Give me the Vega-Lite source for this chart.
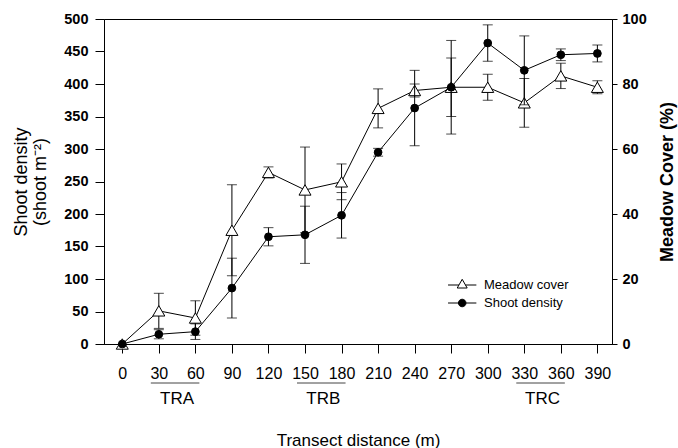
{
  "$schema": "https://vega.github.io/schema/vega-lite/v6.json",
  "width": 508,
  "height": 325,
  "autosize": "none",
  "padding": {"left": 104, "top": 19, "right": 66, "bottom": 104},
  "background": "white",
  "config": {
    "font": "Liberation Sans",
    "view": {"stroke": "black", "strokeWidth": 1},
    "axis": {"grid": false, "domainColor": "black", "tickColor": "black", "labelColor": "black", "titleColor": "black", "domainWidth": 1, "tickWidth": 1, "labelFlush": false, "labelOverlap": false},
    "axisBottom": {"labelFontSize": 16, "labelFontWeight": "normal", "tickSize": 9, "labelPadding": 12, "titleFontSize": 17, "titleFontWeight": "normal", "titleY": 96, "titleBaseline": "middle"},
    "axisLeft": {"labelFontSize": 14.5, "labelFontWeight": "bold", "tickSize": 9, "labelPadding": 7, "titleFontSize": 18, "titleFontWeight": "normal", "titleAngle": 270, "titleX": -83, "titleY": 162.5, "titleAlign": "center", "titleBaseline": "middle", "titleLineHeight": 19},
    "axisRight": {"labelFontSize": 14.5, "labelFontWeight": "bold", "tickSize": 5, "labelPadding": 5, "titleFontSize": 18, "titleFontWeight": "bold", "titleAngle": 270, "titleX": 55, "titleY": 162.5, "titleAlign": "center", "titleBaseline": "middle"}
  },
  "datasets": {
    "main": [
      {"x": 0, "shoot": 0, "shootErr": 0, "cover": 0, "coverErr": 0},
      {"x": 30, "shoot": 15, "shootErr": 7, "cover": 10.2, "coverErr": 5.4},
      {"x": 60, "shoot": 19, "shootErr": 12, "cover": 8, "coverErr": 5.3},
      {"x": 90, "shoot": 86, "shootErr": 46, "cover": 35, "coverErr": 14},
      {"x": 120, "shoot": 165, "shootErr": 14, "cover": 52.8, "coverErr": 1.7},
      {"x": 150, "shoot": 168, "shootErr": 44, "cover": 47.4, "coverErr": 13.2},
      {"x": 180, "shoot": 198, "shootErr": 35, "cover": 49.9, "coverErr": 5.5},
      {"x": 210, "shoot": 295, "shootErr": 6, "cover": 72.5, "coverErr": 6},
      {"x": 240, "shoot": 363, "shootErr": 58, "cover": 78, "coverErr": 2},
      {"x": 270, "shoot": 395, "shootErr": 72, "cover": 79, "coverErr": 9},
      {"x": 300, "shoot": 463, "shootErr": 28, "cover": 79, "coverErr": 4},
      {"x": 330, "shoot": 421, "shootErr": 53, "cover": 74.2, "coverErr": 7.5},
      {"x": 360, "shoot": 445, "shootErr": 9, "cover": 82.5, "coverErr": 3.9},
      {"x": 390, "shoot": 447, "shootErr": 13, "cover": 79, "coverErr": 2}
    ],
    "groups": [
      {"grp": "TRA", "start": 30, "end": 60, "mid": 45},
      {"grp": "TRB", "start": 150, "end": 180, "mid": 165},
      {"grp": "TRC", "start": 330, "end": 360, "mid": 345}
    ],
    "legend": [
      {"series": "Meadow cover"},
      {"series": "Shoot density"}
    ]
  },
  "layer": [
    {
      "data": {"name": "main"},
      "encoding": {
        "x": {"field": "x", "type": "quantitative", "title": "Transect distance (m)", "scale": {"domain": [-15, 402], "nice": false, "zero": false}, "axis": {"values": [0, 30, 60, 90, 120, 150, 180, 210, 240, 270, 300, 330, 360, 390]}},
        "y": {"field": "cover", "type": "quantitative", "title": "Meadow Cover (%)", "scale": {"domain": [0, 100], "nice": false}, "axis": {"orient": "right", "values": [0, 20, 40, 60, 80, 100], "title": "Meadow Cover (%)"}}
      },
      "layer": [
        {"transform": [{"filter": "datum.x > 0"}], "mark": {"type": "errorbar", "color": "black", "thickness": 1, "ticks": {"size": 10, "color": "black", "thickness": 1}}, "encoding": {"yError": {"field": "coverErr"}}},
        {"mark": {"type": "line", "color": "black", "strokeWidth": 1}},
        {"mark": {"type": "point", "shape": "triangle-up", "size": 144, "filled": true, "fill": "white", "stroke": "black", "strokeWidth": 1, "opacity": 1}}
      ]
    },
    {
      "data": {"name": "main"},
      "encoding": {
        "x": {"field": "x", "type": "quantitative", "title": "Transect distance (m)", "scale": {"domain": [-15, 402], "nice": false, "zero": false}, "axis": {"values": [0, 30, 60, 90, 120, 150, 180, 210, 240, 270, 300, 330, 360, 390]}},
        "y": {"field": "shoot", "type": "quantitative", "title": ["Shoot density", "(shoot m⁻²)"], "scale": {"domain": [0, 500], "nice": false}, "axis": {"orient": "left", "values": [0, 50, 100, 150, 200, 250, 300, 350, 400, 450, 500], "title": ["Shoot density", "(shoot m⁻²)"]}}
      },
      "layer": [
        {"transform": [{"filter": "datum.x > 0"}], "mark": {"type": "errorbar", "color": "black", "thickness": 1, "ticks": {"size": 10, "color": "black", "thickness": 1}}, "encoding": {"yError": {"field": "shootErr"}}},
        {"mark": {"type": "line", "color": "black", "strokeWidth": 1}},
        {"mark": {"type": "point", "shape": "circle", "size": 60, "filled": true, "fill": "black", "stroke": "black", "strokeWidth": 1, "opacity": 1}}
      ]
    },
    {
      "data": {"name": "groups"},
      "encoding": {
        "y": {"datum": 0, "type": "quantitative", "scale": {"domain": [0, 500], "nice": false}, "axis": null}
      },
      "layer": [
        {
          "mark": {"type": "rule", "color": "#444444", "strokeWidth": 1, "yOffset": 39, "xOffset": -8, "x2Offset": 4},
          "encoding": {
            "x": {"field": "start", "type": "quantitative", "title": "Transect distance (m)", "axis": {"values": [0, 30, 60, 90, 120, 150, 180, 210, 240, 270, 300, 330, 360, 390]}},
            "x2": {"field": "end"}
          }
        },
        {
          "mark": {"type": "text", "fontSize": 17, "yOffset": 55, "baseline": "middle", "align": "center", "color": "black", "font": "Liberation Sans"},
          "encoding": {
            "x": {"field": "mid", "type": "quantitative", "title": "Transect distance (m)", "axis": {"values": [0, 30, 60, 90, 120, 150, 180, 210, 240, 270, 300, 330, 360, 390]}},
            "text": {"field": "grp"}
          }
        }
      ]
    },
    {
      "data": {"name": "legend"},
      "mark": {"type": "point", "opacity": 0, "size": 144, "filled": true},
      "encoding": {
        "shape": {"field": "series", "type": "nominal", "scale": {"domain": ["Meadow cover", "Shoot density"], "range": ["M-2.36,0H-0.54M0.54,0H2.36M0,-0.95L-0.83,0.5L0.83,0.5Z", "M-2.36,0H2.36M0.63,0A0.63,0.63 0 1,1 -0.63,0A0.63,0.63 0 1,1 0.63,0Z"]},
          "legend": {"title": null, "orient": "none", "legendX": 351.7, "legendY": 259.5, "padding": 0, "symbolSize": 144, "symbolStrokeWidth": 1, "symbolOpacity": 1, "labelFontSize": 13, "labelFont": "Liberation Sans", "labelColor": "black", "labelOffset": 15.3, "rowPadding": 4}},
        "fill": {"field": "series", "type": "nominal", "scale": {"domain": ["Meadow cover", "Shoot density"], "range": ["white", "black"]},
          "legend": {"title": null, "orient": "none", "legendX": 351.7, "legendY": 259.5, "padding": 0, "symbolSize": 144, "symbolStrokeWidth": 1, "symbolOpacity": 1, "labelFontSize": 13, "labelFont": "Liberation Sans", "labelColor": "black", "labelOffset": 15.3, "rowPadding": 4}},
        "stroke": {"field": "series", "type": "nominal", "scale": {"domain": ["Meadow cover", "Shoot density"], "range": ["black", "black"]},
          "legend": {"title": null, "orient": "none", "legendX": 351.7, "legendY": 259.5, "padding": 0, "symbolSize": 144, "symbolStrokeWidth": 1, "symbolOpacity": 1, "labelFontSize": 13, "labelFont": "Liberation Sans", "labelColor": "black", "labelOffset": 15.3, "rowPadding": 4}}
      }
    }
  ],
  "resolve": {"scale": {"y": "independent"}}
}
